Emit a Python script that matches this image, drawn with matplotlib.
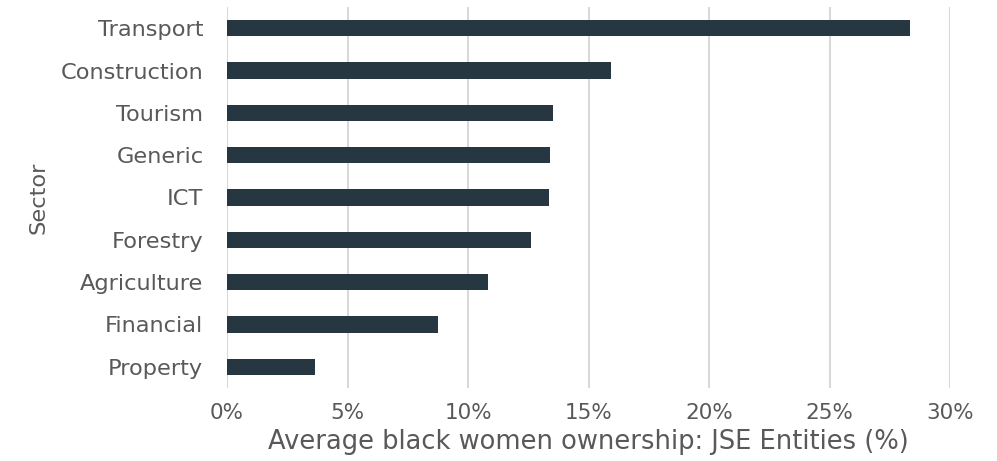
import matplotlib.pyplot as plt
from matplotlib.ticker import FuncFormatter

sectors = ["Transport", "Construction", "Tourism", "Generic", "ICT",
           "Forestry", "Agriculture", "Financial", "Property"]
ownership = [28.35, 15.93, 13.53, 13.42, 13.36, 12.62, 10.84, 8.77, 3.66]

plt.rcParams["font.family"] = ["DejaVu Sans"]

fig = plt.figure(figsize=(9.97, 4.61), dpi=100)
ax = fig.add_axes([0.2277, 0.1584, 0.9529 - 0.2277, 0.9848 - 0.1584])

ax.barh(sectors, ownership, height=0.38, color="#273741", zorder=3)
ax.set_ylim(8.5, -0.5)
ax.set_xlim(0, 30)
ax.set_xticks(range(0, 31, 5))
ax.xaxis.set_major_formatter(FuncFormatter(lambda v, p: f"{v:.0f}%"))

ax.grid(axis="x", color="#d9d9d9", linewidth=1.5, zorder=0)
for s in ax.spines.values():
    s.set_visible(False)

ax.tick_params(axis="both", length=0, labelcolor="#595959")
ax.tick_params(axis="y", pad=17, labelsize=16.2)
ax.tick_params(axis="x", pad=11, labelsize=15.5)

ax.set_xlabel("Average black women ownership: JSE Entities (%)",
              fontsize=18.5, color="#595959", labelpad=4)
ax.set_ylabel("Sector", fontsize=16.2, color="#595959", labelpad=9)

fig.savefig("out.png", dpi=100)
